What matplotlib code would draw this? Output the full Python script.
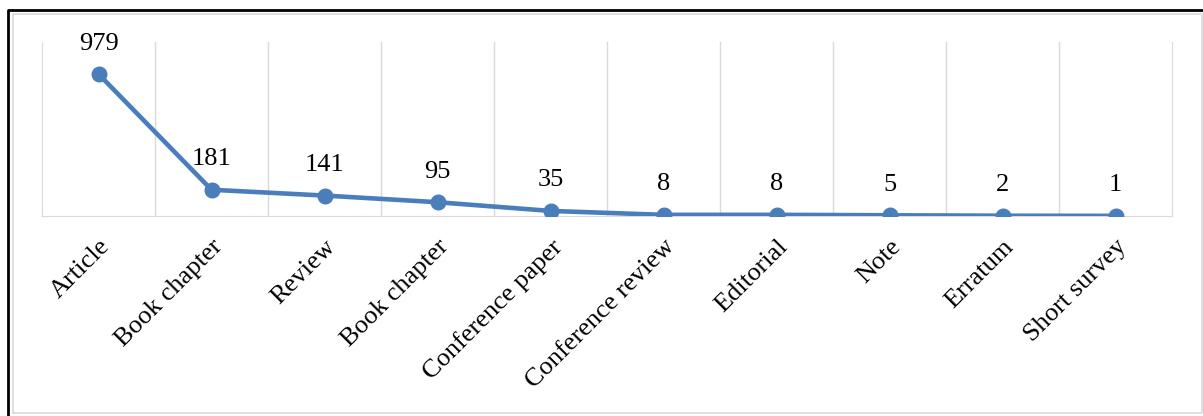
import matplotlib.pyplot as plt
from matplotlib.lines import Line2D

categories = ['Article', 'Book chapter', 'Review', 'Book chapter', 'Conference paper',
              'Conference review', 'Editorial', 'Note', 'Erratum', 'Short survey']
counts = [979, 181, 141, 95, 35, 8, 8, 5, 2, 1]

plt.rcParams['font.family'] = ['Liberation Serif', 'DejaVu Serif']

W, H = 1203, 416
fig = plt.figure(figsize=(W / 100, H / 100), dpi=100)

def fx(px):
    return px / W

def fy(py):
    return 1 - py / H

# black outer frame (only left and top inside the picture), gray inner frame
fig.add_artist(Line2D([fx(8), fx(8), fx(1203)], [fy(416), fy(9.5), fy(9.5)],
                      color='black', linewidth=2))
fig.add_artist(Line2D([fx(13), fx(13), fx(1201.5), fx(1201.5), fx(13)],
                      [fy(413), fy(14), fy(14), fy(413), fy(413)],
                      color='#d9d9d9', linewidth=1.2))

ax = fig.add_axes([fx(42), fy(216), (1172 - 42) / W, 174 / H])
x = list(range(len(categories)))
ax.plot(x, counts, color='#4a7ebb', linewidth=3.3, marker='o', markersize=10.5,
        solid_capstyle='round', zorder=3)

for xi, v in zip(x, counts):
    ax.annotate(str(v), (xi, v), xytext=(0, 14), textcoords='offset points',
                ha='center', va='bottom', fontsize=19)

ax.set_xlim(-0.5, len(categories) - 0.5)
ax.set_ylim(0, 1200)
ax.set_yticks([])
ax.set_xticks(x)
ax.set_xticklabels(categories, rotation=45, ha='right', rotation_mode='anchor', fontsize=19)
ax.tick_params(axis='x', length=0, pad=14)

# vertical gridlines between categories
for b in range(1, len(categories)):
    ax.axvline(b - 0.5, color='#d9d9d9', linewidth=1, zorder=0)

ax.spines['top'].set_visible(False)
for s in ['bottom', 'left', 'right']:
    ax.spines[s].set_color('#d9d9d9')

fig.savefig('out.png', dpi=100)
